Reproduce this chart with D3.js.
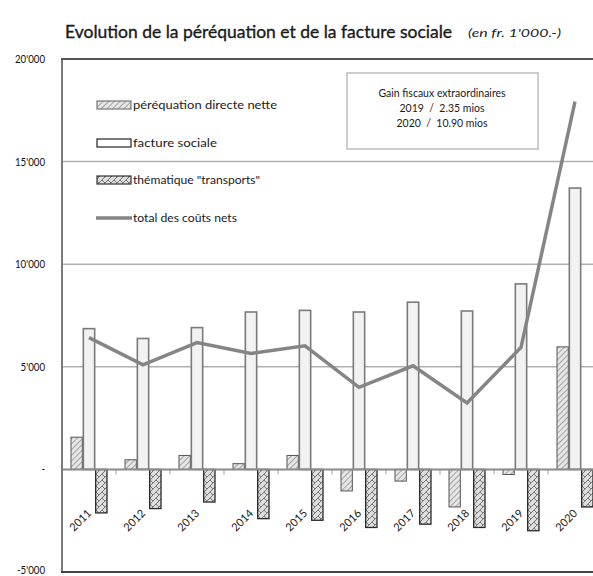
<!DOCTYPE html>
<html><head><meta charset="utf-8">
<script src="https://cdn.jsdelivr.net/npm/d3@7"></script>
<style>
html,body{margin:0;padding:0;background:#fff;}
svg{display:block;font-family:Lato,"Open Sans",sans-serif;}
</style></head>
<body>
<script>
const years = ["2011","2012","2013","2014","2015","2016","2017","2018","2019","2020"];
const perequation = [1570, 470, 680, 280, 680, -1050, -570, -1830, -250, 5970];
const factureSociale = [6860, 6380, 6910, 7670, 7750, 7670, 8150, 7720, 9040, 13710];
const transports = [-2120, -1910, -1590, -2400, -2480, -2830, -2670, -2830, -2990, -1830];
const totalNets = [6420, 5100, 6180, 5650, 6020, 4000, 5050, 3240, 5940, 17920];
const seriesNames = ["péréquation directe nette", "facture sociale", "thématique \"transports\"", "total des coûts nets"];
const yTicks = [-5000, 0, 5000, 10000, 15000, 20000];
const noteLines = ["Gain fiscaux extraordinaires", "2019\u00a0\u00a0/\u00a0\u00a02.35 mios", "2020\u00a0\u00a0/\u00a0\u00a010.90 mios"];

const W = 593, H = 576;
const svg = d3.select("body").append("svg").attr("width", W).attr("height", H);
const defs = svg.append("defs");

const p1 = defs.append("pattern").attr("id","hPer").attr("patternUnits","userSpaceOnUse")
  .attr("width",4).attr("height",4).attr("patternTransform","rotate(45)");
p1.append("rect").attr("width",4).attr("height",4).attr("fill","#e6e6e6");
p1.append("line").attr("x1",0).attr("y1",0).attr("x2",0).attr("y2",4).attr("stroke","#6a6a6a").attr("stroke-width",1.1);

const p2 = defs.append("pattern").attr("id","hTr").attr("patternUnits","userSpaceOnUse")
  .attr("width",6).attr("height",6);
p2.append("rect").attr("width",6).attr("height",6).attr("fill","#dedede");
p2.append("path").attr("d","M0,6 L6,0 M0,0 L3,3").attr("stroke","#6a6a6a").attr("stroke-width",0.9).attr("fill","none");

const x0 = 62, x1 = 602, yTop = 59, yBot = 572;
const x = d3.scaleBand().domain(years).range([x0, x1]).paddingInner(0.315).paddingOuter(0.1575);
const xs = d3.scaleBand().domain(["p","f","t"]).range([0, x.bandwidth()]);
const y = d3.scaleLinear().domain([-5000, 20000]).range([yBot, yTop]);

// title
svg.append("text").attr("x",65).attr("y",38).attr("font-size",17).attr("fill","#1a1a1a")
  .attr("stroke","#1a1a1a").attr("stroke-width",0.35)
  .attr("textLength",387).attr("lengthAdjust","spacingAndGlyphs")
  .text("Evolution de la péréquation et de la facture sociale");
svg.append("text").attr("x",468).attr("y",37).attr("font-size",11).attr("font-style","italic").attr("fill","#222")
  .attr("textLength",93).attr("lengthAdjust","spacingAndGlyphs")
  .text("(en fr. 1'000.-)");

// gridlines
svg.append("g").selectAll("line").data([5000,10000,15000]).join("line")
  .attr("x1",x0).attr("x2",W).attr("y1",d=>y(d)).attr("y2",d=>y(d))
  .attr("stroke","#b0b0b0").attr("stroke-width",1.5);

// y axis labels
const fmt = d => d === 0 ? "-" : d3.format(",")(d).replace(/,/g,"'").replace("−","-");
const yAxis = d3.axisLeft(y).tickValues(yTicks).tickFormat(fmt).tickSize(0).tickPadding(0);
const ga = svg.append("g").attr("transform","translate(45,0)").call(yAxis);
ga.select(".domain").remove();
ga.selectAll("text").attr("font-size",11).attr("fill","#111").attr("font-family","Lato,sans-serif")
  .attr("transform","scale(0.88,1)");
ga.selectAll(".tick").filter(d=>d===-5000).select("text").attr("dy","0.1em");

// bars
const g = svg.append("g");
years.forEach((yr,i)=>{
  const bx = x(yr);
  const items = [
    {k:"p", v:perequation[i], fill:"url(#hPer)", stroke:"#555", sw:1},
    {k:"f", v:factureSociale[i], fill:"#f2f2f2", stroke:"#7a7a7a", sw:1.6},
    {k:"t", v:transports[i], fill:"url(#hTr)", stroke:"#2a2a2a", sw:1.3}
  ];
  items.forEach(it=>{
    g.append("rect")
      .attr("x", bx + xs(it.k) + 0.5)
      .attr("width", xs.bandwidth() - 1)
      .attr("y", y(Math.max(0,it.v)))
      .attr("height", Math.abs(y(it.v)-y(0)))
      .attr("fill", it.fill).attr("stroke", it.stroke).attr("stroke-width", it.sw);
  });
});

// zero line and ticks
svg.append("line").attr("x1",x0).attr("x2",W).attr("y1",y(0)).attr("y2",y(0))
  .attr("stroke","#8a8a8a").attr("stroke-width",2);
svg.append("g").selectAll("line").data(years.slice(1)).join("line")
  .attr("x1",d=>x(d)-x.step()*x.paddingInner()/2).attr("x2",d=>x(d)-x.step()*x.paddingInner()/2)
  .attr("y1",y(0)).attr("y2",y(0)+5).attr("stroke","#999").attr("stroke-width",1);

// total line
const line = d3.line().x((d,i)=>x(years[i])+x.bandwidth()/2).y(d=>y(d));
svg.append("path").datum(totalNets).attr("d",line).attr("fill","none")
  .attr("stroke","#858585").attr("stroke-width",3.5).attr("stroke-linejoin","miter");

// frame
svg.append("line").attr("x1",x0).attr("x2",x0).attr("y1",yTop).attr("y2",yBot).attr("stroke","#7a7a7a").attr("stroke-width",2);
svg.append("line").attr("x1",x0-1).attr("x2",W).attr("y1",yTop).attr("y2",yTop).attr("stroke","#555").attr("stroke-width",2);
svg.append("line").attr("x1",x0-1).attr("x2",W).attr("y1",yBot).attr("y2",yBot).attr("stroke","#444").attr("stroke-width",2);

// x labels
svg.append("g").selectAll("text").data(years).join("text")
  .attr("transform",d=>`translate(${x(d)+x.bandwidth()/2+3},${514}) rotate(-45)`)
  .attr("text-anchor","end").attr("font-size",11).attr("fill","#1a1a1a").text(d=>d);

// legend
const lg = svg.append("g");
const ly = [105,143,180,218];
[{f:"url(#hPer)",s:"#777"},{f:"#fff",s:"#222"},{f:"url(#hTr)",s:"#333"}].forEach((sw,i)=>{
  lg.append("rect").attr("x",97).attr("y",ly[i]-4).attr("width",34).attr("height",8)
    .attr("fill",sw.f).attr("stroke",sw.s).attr("stroke-width",1.2);
});
lg.append("line").attr("x1",96).attr("x2",132).attr("y1",ly[3]).attr("y2",ly[3]).attr("stroke","#858585").attr("stroke-width",3.5);
lg.selectAll("text").data(seriesNames).join("text")
  .attr("x",133).attr("y",(d,i)=>ly[i]+4).attr("font-size",11).attr("fill","#1a1a1a")
  .text(d=>d)
  .each(function(d,i){ d3.select(this).attr("textLength",[144,84,127,104][i]).attr("lengthAdjust","spacingAndGlyphs"); });

// note box
svg.append("rect").attr("x",347).attr("y",73).attr("width",191).attr("height",76)
  .attr("fill","#fff").attr("stroke","#bdbdbd").attr("stroke-width",1.5);
svg.append("g").selectAll("text").data(noteLines).join("text")
  .attr("x",442).attr("y",(d,i)=>97+i*15).attr("text-anchor","middle").attr("font-size",10.5).attr("fill","#1a1a1a")
  .text(d=>d);
</script>
</body></html>
